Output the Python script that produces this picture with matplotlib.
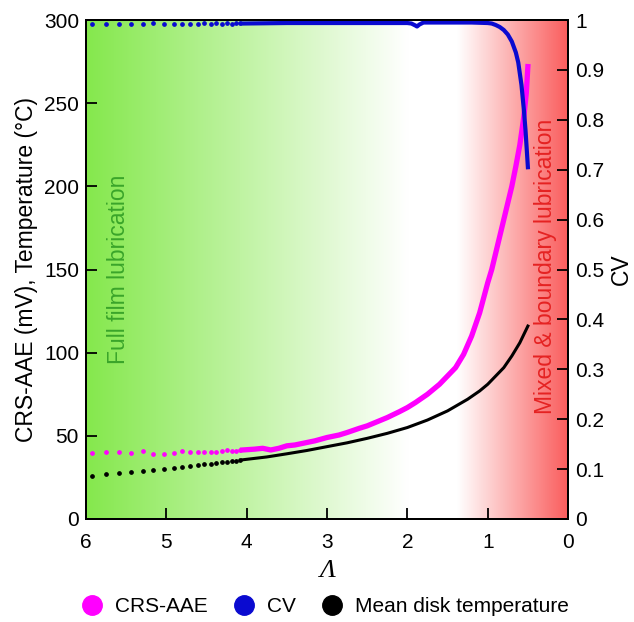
import numpy as np
import matplotlib
matplotlib.use("Agg")
import matplotlib.pyplot as plt
from matplotlib.lines import Line2D

plt.rcParams["font.family"] = ["Liberation Sans", "DejaVu Sans"]

# ── DATA ─────────────────────────────────────────────────────────
# sparse samples at high lambda (drawn as dots)
lam_dots = [5.92, 5.75, 5.59, 5.44, 5.29, 5.16, 5.03, 4.91, 4.81, 4.70,
            4.61, 4.53, 4.45, 4.38, 4.31, 4.25, 4.18, 4.13, 4.08]
crs_dots = [39.5, 40.5, 40.1, 39.7, 40.7, 39.1, 39.3, 39.5, 40.9, 40.1,
            40.3, 40.1, 40.3, 40.5, 40.9, 41.5, 40.7, 41.0, 41.5]
temp_dots = [26.0, 27.0, 27.6, 28.2, 29.0, 29.5, 30.1, 30.7, 31.3, 31.9,
             32.3, 32.8, 33.3, 33.7, 34.1, 34.4, 34.8, 35.1, 35.4]
cv_dots = [0.993, 0.992, 0.993, 0.992, 0.993, 0.994, 0.992, 0.993, 0.993,
           0.992, 0.993, 0.994, 0.993, 0.994, 0.993, 0.994, 0.993, 0.994, 0.994]

# dense region (drawn as lines)
lam_crs = [4.05, 3.9, 3.8, 3.7, 3.6, 3.5, 3.4, 3.3, 3.15, 3.0, 2.85, 2.75,
           2.6, 2.5, 2.35, 2.25, 2.1, 2.0, 1.9, 1.75, 1.6, 1.5, 1.4, 1.3,
           1.2, 1.1, 1.0, 0.95, 0.9, 0.85, 0.8, 0.75, 0.7, 0.65, 0.6, 0.55,
           0.52, 0.5]
crs = [41.5, 42.0, 42.5, 41.5, 42.5, 44.0, 44.5, 45.5, 47.0, 49.0, 50.5, 52.0,
       54.5, 56.0, 59.0, 61.0, 64.5, 67.0, 70.0, 75.0, 81.0, 86.0, 91.0, 99.0,
       110.0, 124.0, 142.0, 150.0, 160.0, 170.0, 180.0, 190.0, 200.0, 212.0,
       225.0, 242.0, 256.0, 272.0]

lam_temp = [4.05, 3.75, 3.5, 3.25, 3.0, 2.75, 2.5, 2.25, 2.0, 1.75, 1.5,
            1.25, 1.1, 1.0, 0.9, 0.8, 0.7, 0.6, 0.55, 0.5]
temp = [35.6, 37.3, 39.2, 41.2, 43.5, 45.8, 48.5, 51.5, 55.0, 59.5, 65.0,
        72.0, 77.0, 81.0, 86.0, 91.0, 98.0, 106.0, 111.0, 116.0]

lam_cv = [4.05, 3.5, 3.0, 2.5, 2.0, 1.95, 1.9, 1.88, 1.85, 1.8, 1.5, 1.2,
          1.0, 0.95, 0.9, 0.85, 0.8, 0.75, 0.7, 0.65, 0.62, 0.58, 0.55,
          0.53, 0.5]
cv = [0.993, 0.994, 0.994, 0.994, 0.994, 0.993, 0.989, 0.987, 0.991, 0.995,
      0.995, 0.995, 0.994, 0.993, 0.990, 0.986, 0.980, 0.971, 0.957, 0.935,
      0.915, 0.87, 0.82, 0.78, 0.705]

MAGENTA = "#ff00ff"
BLUE = "#0a0ad0"
BLACK = "#000000"


def background():
    # green -> white -> red gradient along lambda
    xs = np.linspace(6, 0, 600)
    g = np.array([0.52, 0.91, 0.30])
    r = np.array([0.98, 0.36, 0.36])
    w = np.array([1.0, 1.0, 1.0])
    img = np.ones((1, len(xs), 3))
    for i, x in enumerate(xs):
        if x >= 2.0:
            t = (x - 2.0) / 4.0
            img[0, i] = w + (g - w) * t
        elif x <= 1.38:
            t = (1.38 - x) / 1.38
            img[0, i] = w + (r - w) * t
    return img


fig = plt.figure(figsize=(6.34, 6.22), dpi=100)
ax = fig.add_axes([0.1356, 0.1656, 0.7604, 0.8022])
ax.imshow(background(), extent=[6, 0, 0, 300], aspect="auto", zorder=0)

ax.plot(lam_dots, crs_dots, "o", color=MAGENTA, markersize=2.4, zorder=3)
ax.plot(lam_crs, crs, "-", color=MAGENTA, linewidth=3.8, zorder=3,
        solid_joinstyle="round")
ax.plot(lam_dots, temp_dots, "o", color=BLACK, markersize=2.4, zorder=3)
ax.plot(lam_temp, temp, "-", color=BLACK, linewidth=2.2, zorder=3)

ax.set_xlim(6, 0)
ax.set_ylim(0, 300)
ax.set_xticks([6, 5, 4, 3, 2, 1, 0])
ax.set_yticks([0, 50, 100, 150, 200, 250, 300])
ax.tick_params(direction="in", length=8, width=1.3, labelsize=15, pad=5)
ax.tick_params(axis="x", pad=10)
ax.set_xlabel("Λ", fontsize=19, fontfamily="Liberation Serif",
              style="italic", labelpad=6)
ax.set_ylabel("CRS-AAE (mV), Temperature (°C)", fontsize=16.5, labelpad=4)

ax2 = ax.twinx()
ax2.plot(lam_dots, cv_dots, "o", color=BLUE, markersize=2.4)
ax2.plot(lam_cv, cv, "-", color=BLUE, linewidth=3.0, solid_joinstyle="round")
ax2.set_ylim(0, 1)
ax2.set_yticks([0, 0.1, 0.2, 0.3, 0.4, 0.5, 0.6, 0.7, 0.8, 0.9, 1.0])
ax2.set_yticklabels(["0", "0.1", "0.2", "0.3", "0.4", "0.5", "0.6", "0.7",
                     "0.8", "0.9", "1"])
ax2.tick_params(direction="in", length=8, width=1.3, labelsize=15, pad=5)
ax2.set_ylabel("CV", fontsize=16.5, labelpad=4)

for a in (ax, ax2):
    for s in a.spines.values():
        s.set_linewidth(1.4)

ax.text(5.6, 150, "Full film lubrication", rotation=90, ha="center",
        va="center", color="#3aa52a", fontsize=16.5)
ax.text(0.28, 152, "Mixed & boundary lubrication", rotation=90, ha="center",
        va="center", color="#e52222", fontsize=16.5)

handles = [Line2D([], [], marker="o", linestyle="", color=MAGENTA, markersize=14),
           Line2D([], [], marker="o", linestyle="", color=BLUE, markersize=14),
           Line2D([], [], marker="o", linestyle="", color=BLACK, markersize=14)]
fig.legend(handles, ["CRS-AAE", "CV", "Mean disk temperature"],
           loc="center", bbox_to_anchor=(0.505, 0.025), ncol=3, frameon=False,
           fontsize=15, handletextpad=0.1, columnspacing=0.75)

fig.savefig("out.png", dpi=100, facecolor="white")
